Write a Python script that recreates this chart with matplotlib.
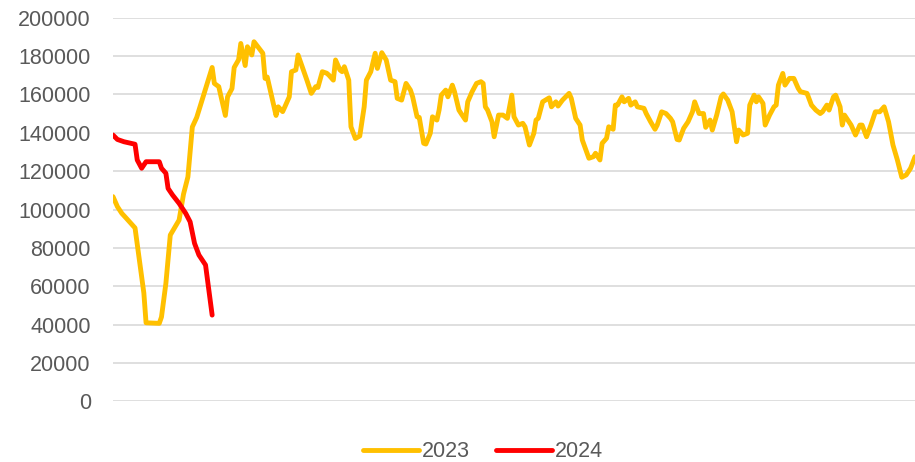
import matplotlib
matplotlib.use("Agg")
import matplotlib.pyplot as plt

# day of year -> value (at the line's turning points)
days_2023 = [0, 2, 4, 6, 10, 14, 15, 21, 22, 24, 26, 30, 32, 34, 36, 38, 45, 46, 48, 51,
             52, 54, 55, 57, 58, 60, 61, 63, 64, 68, 69, 70, 74, 75, 77, 78, 80, 81, 83, 84,
             88, 90, 92, 93, 95, 97, 98, 100, 101, 103, 104, 105, 107, 108, 110, 112, 114, 115, 117, 119,
             120, 122, 124, 126, 128, 129, 131, 133, 135, 136, 138, 139, 141, 142, 144, 145, 147, 148, 149, 151,
             152, 154, 155, 157, 158, 160, 161, 163, 165, 167, 168, 169, 170, 172, 173, 175, 177, 179, 181, 182,
             184, 186, 187, 189, 191, 192, 193, 195, 198, 199, 201, 202, 204, 207, 208, 210, 212, 213, 216, 218,
             219, 221, 222, 224, 225, 227, 228, 229, 231, 232, 234, 235, 237, 238, 241, 242, 244, 246, 247, 249,
             251, 253, 254, 256, 257, 259, 261, 263, 264, 266, 268, 269, 271, 272, 274, 276, 277, 279, 281, 282,
             283, 284, 286, 288, 289, 291, 292, 293, 295, 296, 298, 300, 301, 302, 304, 305, 307, 309, 311, 312,
             315, 317, 319, 321, 322, 324, 325, 327, 328, 330, 331, 332, 335, 337, 339, 340, 342, 344, 346, 348,
             350, 352, 354, 356, 358, 360, 362, 364]
vals_2023 = [106700, 101500, 98000, 95500, 90400, 56500, 41000, 40700, 44000, 61500, 86700, 94500, 108000, 117000, 143000, 148000, 174000, 165700, 164000, 149000,
             158700, 163000, 174000, 178000, 186500, 175000, 184800, 180500, 187400, 181400, 168300, 169000, 149000, 153500, 151000, 153500, 158700, 171800, 172700, 180500,
             167400, 160500, 164000, 163600, 171800, 171000, 170000, 167400, 177900, 172700, 171800, 174400, 167400, 143100, 137000, 138300, 153500, 167400, 171800, 181400,
             173500, 181700, 177900, 167400, 166600, 157900, 157000, 165700, 162200, 158700, 148300, 148000, 134500, 134100, 139700, 148300, 146600, 151800, 159600, 162200,
             158700, 164800, 161400, 151800, 150000, 146600, 156100, 161400, 165700, 166600, 165700, 153500, 151800, 145700, 137900, 149200, 149200, 147500, 159600, 148300,
             144000, 144900, 143100, 133600, 139700, 146600, 147500, 156100, 158200, 153500, 156100, 153900, 157000, 160500, 157900, 147500, 144000, 136200, 126700, 127500,
             129300, 125800, 134500, 137100, 143100, 141800, 154400, 154400, 158700, 156100, 157900, 154400, 156100, 153500, 152700, 150000, 145700, 141800, 144000, 150900,
             150000, 147500, 145700, 136500, 136200, 142300, 145700, 150900, 156100, 150000, 150000, 142800, 146600, 141400, 149200, 158700, 160200, 157000, 150900, 143100,
             135300, 141400, 138800, 139700, 154400, 159600, 156100, 158700, 155300, 144000, 149200, 153500, 154400, 164800, 170900, 164800, 168300, 168300, 163100, 161400,
             160500, 154400, 151800, 150000, 150900, 154400, 151800, 158700, 159600, 153500, 144000, 149200, 144000, 138800, 144000, 144000, 137900, 144000, 150900, 150900,
             153500, 145700, 133600, 125800, 116800, 118000, 121500, 127500]

days_2024 = [0, 2, 5, 10, 11, 13, 15, 21, 22, 24, 25, 27, 30, 33, 35, 37, 39, 42, 45]
vals_2024 = [138800, 136500, 135300, 134000, 125800, 121500, 124900, 124900, 121500, 118900,
             111000, 107600, 103200, 98000, 93600, 82400, 76300, 71100, 45000]

yticks = list(range(0, 200001, 20000))

plt.rcParams['font.family'] = ['Liberation Sans', 'DejaVu Sans']

fig = plt.figure(figsize=(9.15, 4.62), dpi=100)
ax = fig.add_axes([0.1235, 0.131, 0.8765, 0.831])

ax.plot(days_2023, vals_2023, color='#FFC000', lw=3.5, label='2023', solid_joinstyle='round', solid_capstyle='round')
ax.plot(days_2024, vals_2024, color='#FF0000', lw=3.5, label='2024', solid_joinstyle='round', solid_capstyle='round')

ax.set_xlim(0, 364)
ax.set_ylim(0, 200000)
ax.set_yticks(yticks)
ax.set_yticklabels([str(t) for t in yticks])
ax.set_xticks([])
ax.tick_params(axis='y', length=0, pad=16, labelsize=15.5, labelcolor='#595959')
ax.grid(axis='y', color='#D9D9D9', lw=1.2)
ax.set_axisbelow(True)
for s in ax.spines.values():
    s.set_visible(False)

fig.legend(loc='center', bbox_to_anchor=(0.528, 0.022), ncol=2, frameon=False,
           fontsize=15.5, labelcolor='#595959', handlelength=2.6, columnspacing=1.2,
           handletextpad=0.15)

fig.savefig('out.png', dpi=100)
